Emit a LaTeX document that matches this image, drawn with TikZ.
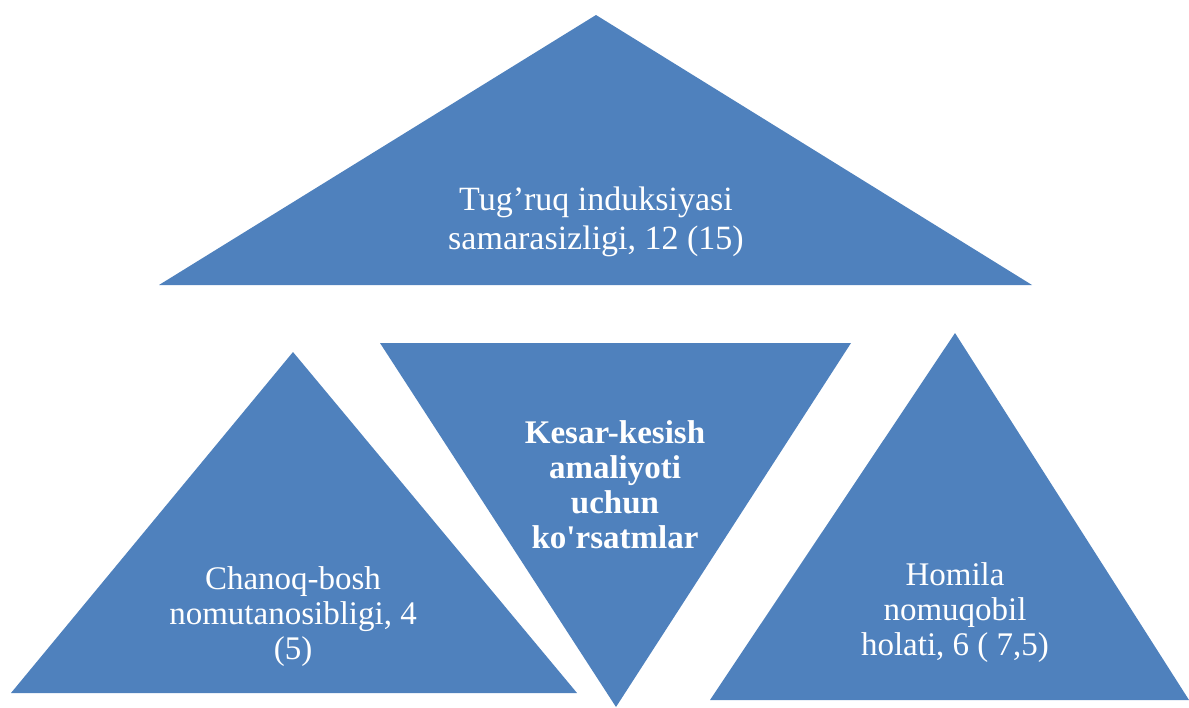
\documentclass[tikz,border=0pt]{standalone}
\usepackage{fontspec}
\setmainfont{Liberation Serif}[Ligatures=TeXOff]
\definecolor{triblue}{HTML}{4F81BD}

\begin{document}
\begin{tikzpicture}[x=1pt, y=-1pt,
		tri/.style={fill=triblue},
		lbl/.style={text=white, align=center, inner sep=0pt, font=\fontsize{33}{35}\selectfont}]
		\useasboundingbox (0,0) rectangle (1189,707);
		% top triangle
		\fill[tri] (596,15) -- (1032,285) -- (159,285) -- cycle;
		% bottom row: left, middle (upside down), right
		\fill[tri] (293,352) -- (577,693) -- (11,693) -- cycle;
		\fill[tri] (380,343) -- (851,343) -- (616,707) -- cycle;
		\fill[tri] (955,333) -- (1189,700) -- (710,700) -- cycle;
		% texts
		\node[lbl, font=\fontsize{34}{39}\selectfont] (induksiya) at (596,222) {Tug’ruq induksiyasi\\samarasizligi, 12 (15)};
		\node[lbl] (chanoq) at (293,617) {Chanoq-bosh\\nomutanosibligi, 4\\(5)};
		\node[lbl, font=\fontsize{33}{35}\selectfont\bfseries] (kesar) at (615,485) {Kesar-kesish\\amaliyoti\\uchun\\ko'rsatmlar};
		\node[lbl] (homila) at (955,613) {Homila\\nomuqobil\\holati, 6 ( 7,5)};
	\end{tikzpicture}
\end{document}
